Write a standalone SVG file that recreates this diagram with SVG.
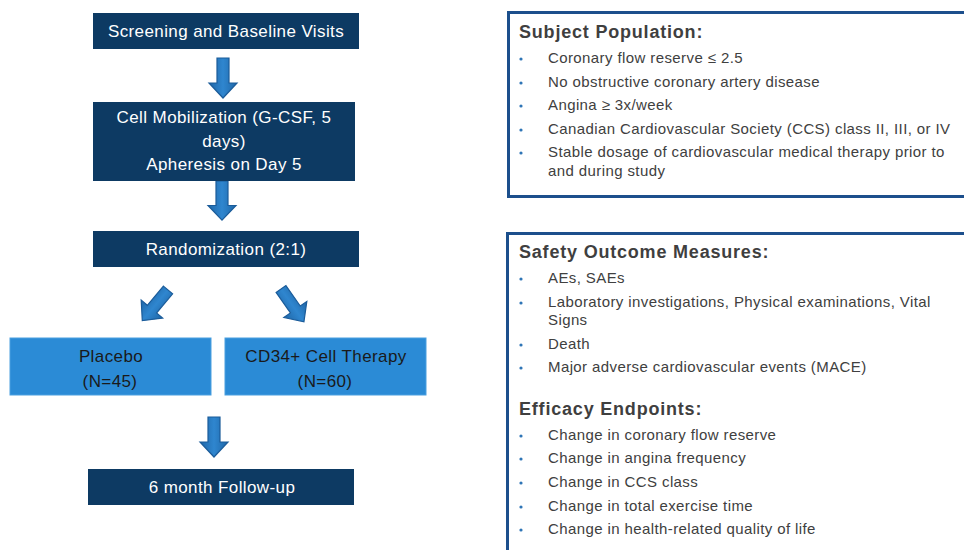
<svg xmlns="http://www.w3.org/2000/svg" width="964" height="550" viewBox="0 0 964 550">
<style>
  .dark { fill: #0d3a63; }
  .mid { fill: #2b8bd6; stroke: #4a9fe0; stroke-width: 1; }
  .wt { font-family: "Liberation Sans", Arial, sans-serif; font-size: 17px; letter-spacing: 0.4px; fill: #ffffff; text-anchor: middle; }
  .bt { font-family: "Liberation Sans", Arial, sans-serif; font-size: 17px; letter-spacing: 0.4px; fill: #1a1a1a; text-anchor: middle; }
  .panel { fill: #ffffff; stroke: #1c4f8c; stroke-width: 3; }
  .hd { font-family: "Liberation Sans", Arial, sans-serif; font-size: 18px; letter-spacing: 0.8px; font-weight: bold; fill: #3f3f3f; }
  .it { font-family: "Liberation Sans", Arial, sans-serif; font-size: 15px; letter-spacing: 0.4px; fill: #404040; }
  .bul { fill: #2e75b6; }
  .arrow { fill: url(#ag); stroke: #1b5c9a; stroke-width: 1.2; }
</style>
<defs>
  <linearGradient id="ag" x1="0" y1="0" x2="1" y2="0">
    <stop offset="0" stop-color="#1f67a8"/>
    <stop offset="0.5" stop-color="#2f86cf"/>
    <stop offset="1" stop-color="#1f67a8"/>
  </linearGradient>
  <path id="dn" d="M -6,0 H 6 V 25 H 14 L 0 40 L -14 25 H -6 Z"/>
</defs>
<rect width="964" height="550" fill="#ffffff"/>

<g id="connectors">
  <use href="#dn" class="arrow" transform="translate(223,58)"/>
  <use href="#dn" class="arrow" transform="translate(222,181) scale(1,0.98)"/>
  <use href="#dn" class="arrow" transform="translate(168,290) rotate(40)"/>
  <use href="#dn" class="arrow" transform="translate(281,289) rotate(-35)"/>
  <use href="#dn" class="arrow" transform="translate(214,417)"/>
</g>

<g id="screening">
  <rect class="dark" x="93" y="13" width="266" height="36"/>
  <text class="wt" x="226" y="37">Screening and Baseline Visits</text>
</g>
<g id="mobilization">
  <rect class="dark" x="93" y="102" width="262" height="79"/>
  <text class="wt" x="224" y="123">Cell Mobilization (G-CSF, 5</text>
  <text class="wt" x="224" y="147">days)</text>
  <text class="wt" x="224" y="170">Apheresis on Day 5</text>
</g>
<g id="randomization">
  <rect class="dark" x="93" y="231" width="266" height="36"/>
  <text class="wt" x="226" y="255">Randomization (2:1)</text>
</g>
<g id="placebo">
  <rect class="mid" x="10" y="338" width="201" height="57"/>
  <text class="bt" x="111" y="362">Placebo</text>
  <text class="bt" x="110" y="387">(N=45)</text>
</g>
<g id="cd34">
  <rect class="mid" x="225" y="338" width="201" height="57"/>
  <text class="bt" x="326" y="362">CD34+ Cell Therapy</text>
  <text class="bt" x="325" y="387">(N=60)</text>
</g>
<g id="followup">
  <rect class="dark" x="88" y="469" width="266" height="36"/>
  <text class="wt" x="222" y="493">6 month  Follow-up</text>
</g>

<g id="subject-population">
  <rect class="panel" x="508.5" y="12.5" width="470" height="184"/>
  <text class="hd" x="519" y="38">Subject Population:</text>
  <circle class="bul" cx="521" cy="59" r="1.6"/>
  <text class="it" x="548" y="63">Coronary flow reserve ≤ 2.5</text>
  <circle class="bul" cx="521" cy="83" r="1.6"/>
  <text class="it" x="548" y="87">No obstructive coronary artery disease</text>
  <circle class="bul" cx="521" cy="106" r="1.6"/>
  <text class="it" x="548" y="110">Angina ≥ 3x/week</text>
  <circle class="bul" cx="521" cy="130" r="1.6"/>
  <text class="it" x="548" y="134">Canadian Cardiovascular Society (CCS) class II, III, or IV</text>
  <circle class="bul" cx="521" cy="153" r="1.6"/>
  <text class="it" x="548" y="157">Stable dosage of cardiovascular medical therapy prior to</text>
  <text class="it" x="548" y="176">and during study</text>
</g>

<g id="outcomes">
  <rect class="panel" x="507.5" y="233.5" width="470" height="330"/>
  <text class="hd" x="519" y="258">Safety Outcome Measures:</text>
  <circle class="bul" cx="521" cy="279" r="1.6"/>
  <text class="it" x="548" y="283">AEs, SAEs</text>
  <circle class="bul" cx="521" cy="303" r="1.6"/>
  <text class="it" x="548" y="307">Laboratory investigations, Physical examinations, Vital</text>
  <text class="it" x="548" y="325">Signs</text>
  <circle class="bul" cx="521" cy="345" r="1.6"/>
  <text class="it" x="548" y="349">Death</text>
  <circle class="bul" cx="521" cy="368" r="1.6"/>
  <text class="it" x="548" y="372">Major adverse cardiovascular events (MACE)</text>
  <text class="hd" x="519" y="415">Efficacy Endpoints:</text>
  <circle class="bul" cx="521" cy="436" r="1.6"/>
  <text class="it" x="548" y="440">Change in coronary flow reserve</text>
  <circle class="bul" cx="521" cy="459" r="1.6"/>
  <text class="it" x="548" y="463">Change in angina frequency</text>
  <circle class="bul" cx="521" cy="483" r="1.6"/>
  <text class="it" x="548" y="487">Change in CCS class</text>
  <circle class="bul" cx="521" cy="507" r="1.6"/>
  <text class="it" x="548" y="511">Change in total exercise time</text>
  <circle class="bul" cx="521" cy="530" r="1.6"/>
  <text class="it" x="548" y="534">Change in health-related quality of life</text>
</g>
</svg>
